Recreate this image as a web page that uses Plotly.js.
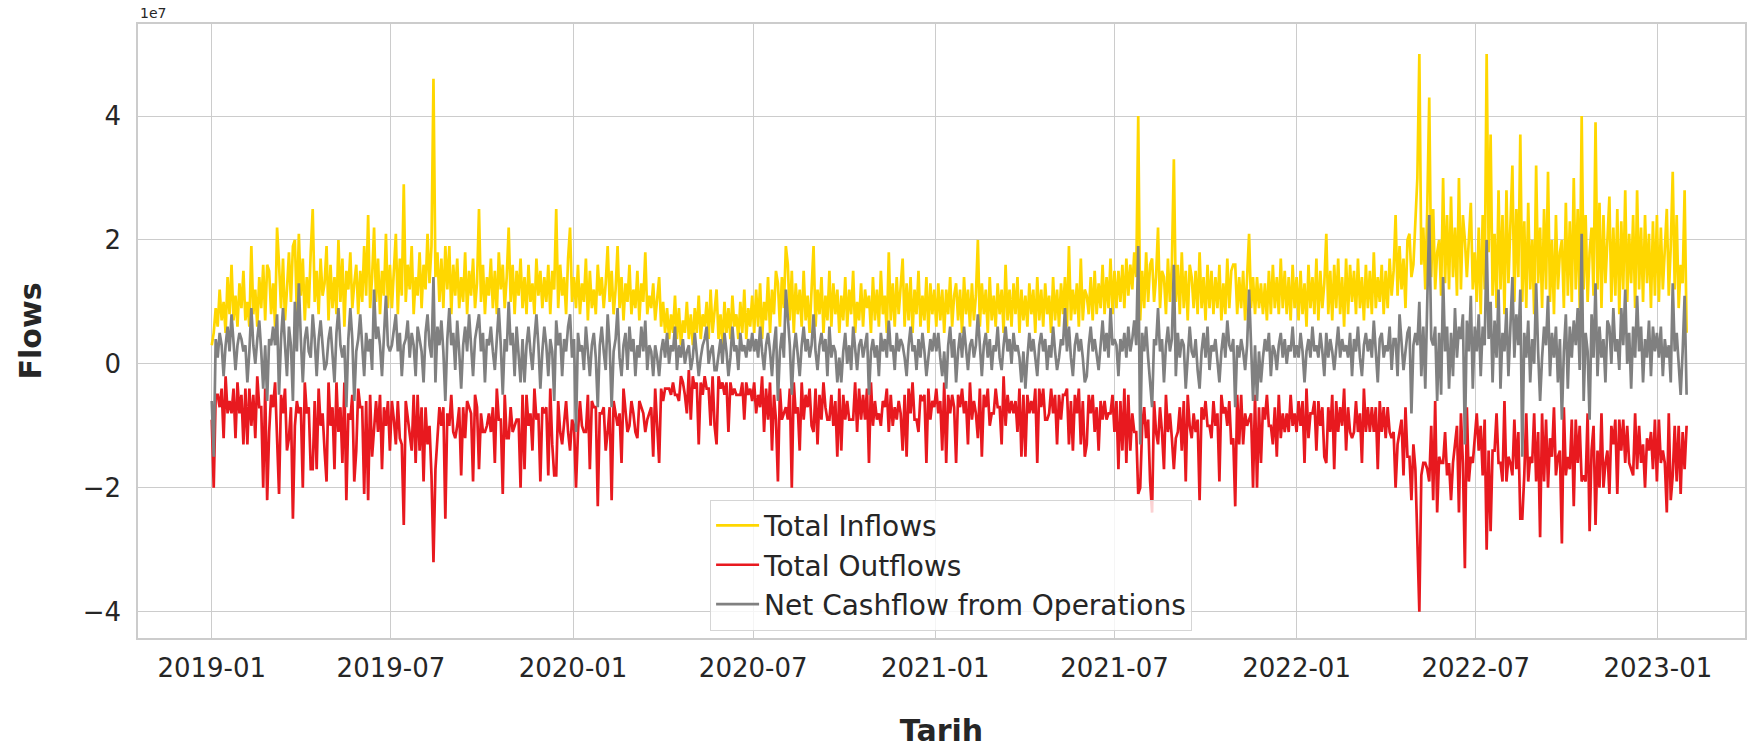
<!DOCTYPE html>
<html>
<head>
<meta charset="utf-8">
<script src="https://cdn.plot.ly/plotly-3.0.1.min.js"></script>
<style>html,body{margin:0;padding:0;background:#fff;}#chart{width:1747px;height:751px;}</style>
</head>
<body>
<div id="chart"></div>
<script>
// Series sampled every 2 days starting 2019-01-01, values in millions (axis labelled in units of 1e7)
const startDate = '2019-01-01';
const stepDays = 2;
const seriesNames = ['Total Inflows', 'Total Outflows', 'Net Cashflow from Operations'];
const xTickDates = ['2019-01-01','2019-07-01','2020-01-01','2020-07-01','2021-01-01','2021-07-01','2022-01-01','2022-07-01','2023-01-01'];
const xTickLabels = ['2019-01','2019-07','2020-01','2020-07','2021-01','2021-07','2022-01','2022-07','2023-01'];
const yTickValues = [-40, -20, 0, 20, 40];
const yTickLabels = ['\u22124', '\u22122', '0', '2', '4'];

const totalInflows = [
3,5,9,6,12,7,10,5,14,8,16,7,11,6,13,9,15,7,10,6,19,8,12,6,14,9,16,7,16,15,8,13,6,22,16,9,17,7,12,18,10,19,20,8,21,11,17,7,14,9,18,25,10,15,8,17,11,13,19,7,16,9,14,8,20,10,17,6,15,12,18,9,13,16,8,15,10,19,11,24,9,14,22,10,17,8,15,11,21,9,16,
9,15,21,8,17,11,29,10,16,12,19,8,14,11,18,9,16,12,21,13,19,46,14,18,10,17,9,19,12,19,8,16,11,17,9,14,10,18,8,15,11,17,9,13,25,10,16,8,14,11,17,9,15,8,18,12,16,9,14,22,10,16,8,15,11,17,9,14,8,16,10,13,8,17,11,15,9,14,10,16,8,15,12,25,9,16,11,14,8,17,22,10,
14,9,16,8,13,10,17,7,15,9,12,8,16,11,14,9,13,19,10,15,8,12,19,9,14,7,13,10,16,8,12,9,15,7,13,10,18,8,11,9,13,7,11,14,6,10,5,9,4,8,5,11,4,9,3,7,5,10,4,8,3,9,5,11,4,8,6,10,4,12,5,9,12,4,8,3,10,5,9,4,11,6,8,4,10,5,12,4,9,6,11,
5,12,6,13,4,10,7,14,5,12,8,15,13,6,14,9,19,16,7,15,5,13,8,12,6,15,7,11,5,13,19,6,12,8,14,5,11,7,15,6,13,8,12,5,11,7,14,6,12,8,15,5,10,7,13,6,12,9,11,5,14,7,12,6,15,8,11,5,18,7,13,6,14,8,12,17,6,13,7,14,5,12,8,15,6,11,7,14,5,13,8,12,
6,13,7,12,5,12,8,14,6,11,13,7,12,5,14,8,12,6,13,7,11,20,6,13,8,12,5,14,7,11,6,13,8,12,5,16,7,12,6,13,8,14,5,12,7,11,6,13,8,12,5,14,7,12,6,13,8,11,5,14,7,12,6,13,8,14,6,19,7,12,8,13,6,17,7,12,11,8,14,7,15,8,13,9,16,8,14,9,17,8,15,
9,15,10,16,9,17,11,16,12,18,14,40,7,15,9,18,10,16,17,10,14,22,9,15,14,8,17,10,16,33,10,16,8,18,9,15,7,16,14,9,15,8,18,9,14,7,16,9,15,8,14,9,16,7,13,8,17,9,15,16,16,8,14,9,15,7,13,21,9,14,8,14,9,13,8,13,7,15,8,16,9,14,8,17,9,15,8,14,7,16,9,
14,7,15,8,13,6,16,9,14,8,17,7,15,9,13,21,8,15,7,16,9,17,8,14,6,17,8,16,10,15,8,17,9,14,7,16,9,15,8,18,9,14,10,16,8,15,9,17,11,15,24,11,19,12,17,9,20,21,14,16,22,30,50,16,22,12,25,43,14,25,12,18,20,11,30,13,24,12,27,14,22,11,30,12,24,20,14,21,26,12,18,
10,22,8,24,12,50,18,37,11,21,9,28,12,24,8,28,13,22,32,10,25,14,37,10,23,9,26,12,20,8,32,13,22,9,25,12,31,10,20,8,24,12,18,20,9,26,11,23,10,30,12,25,9,40,12,24,10,18,22,11,39,12,26,9,24,13,21,27,10,22,11,25,8,23,12,28,10,21,13,24,9,28,12,22,10,24,13,21,9,23,11,24,
10,22,12,20,25,11,19,31,12,24,9,16,13,28,5
];

const totalOutflows = [
-9,-20,-5,-5,-7,-4,-12,-2,-8,-6,-8,-4,-12,-3,-8,-5,-13,-4,-13,-4,-10,-5,-12,-2,-7,-7,-20,-4,-22,-11,-5,-7,-3,-14,-21,-5,-8,-4,-14,-12,-7,-25,-10,-6,-8,-7,-20,-3,-8,-7,-17,-17,-6,-17,-4,-10,-8,-14,-19,-3,-10,-7,-17,-3,-11,-7,-16,-3,-22,-8,-9,-5,-19,-14,-4,-7,-7,-21,-6,-22,-5,-15,-10,-6,-11,-5,-17,-7,-10,-6,-14,
-6,-9,-13,-6,-12,-13,-26,-6,-9,-11,-14,-5,-16,-5,-14,-7,-19,-7,-13,-10,-18,-32,-17,-12,-7,-10,-7,-25,-8,-10,-5,-11,-12,-10,-7,-18,-7,-12,-6,-7,-8,-19,-5,-7,-17,-8,-11,-11,-10,-8,-11,-7,-16,-4,-9,-9,-21,-5,-12,-12,-7,-11,-10,-9,-9,-20,-5,-17,-5,-10,-8,-14,-4,-9,-8,-19,-7,-8,-7,-18,-4,-13,-18,-18,-6,-11,-13,-10,-6,-11,-14,-9,
-10,-20,-11,-6,-10,-11,-11,-5,-17,-6,-7,-7,-23,-8,-8,-7,-14,-11,-7,-22,-6,-8,-10,-8,-16,-4,-8,-11,-10,-6,-8,-11,-12,-6,-7,-8,-11,-9,-8,-7,-15,-4,-10,-16,-4,-6,-4,-4,-4,-5,-3,-5,-5,-6,-2,-3,-5,-8,-1,-9,-2,-4,-3,-13,-3,-5,-2,-4,-4,-10,-2,-10,-13,-2,-4,-3,-5,-3,-11,-3,-5,-4,-5,-5,-5,-3,-9,-3,-5,-4,-6,
-3,-8,-5,-7,-2,-11,-4,-9,-3,-14,-5,-9,-19,-4,-9,-8,-7,-9,-4,-20,-3,-8,-7,-14,-3,-9,-5,-7,-4,-10,-11,-4,-13,-5,-9,-3,-7,-9,-9,-5,-10,-6,-15,-4,-14,-5,-9,-6,-9,-9,-9,-3,-11,-4,-9,-5,-9,-4,-16,-3,-10,-6,-9,-8,-10,-6,-7,-4,-11,-5,-10,-7,-9,-6,-8,-14,-5,-15,-4,-8,-3,-9,-9,-11,-5,-6,-5,-16,-4,-9,-6,-7,
-4,-8,-6,-14,-3,-16,-5,-8,-5,-7,-16,-5,-7,-4,-8,-6,-13,-3,-9,-6,-8,-12,-4,-15,-5,-7,-4,-10,-8,-8,-4,-7,-7,-13,-2,-10,-5,-8,-6,-8,-6,-11,-4,-15,-5,-15,-5,-8,-6,-8,-4,-16,-4,-7,-4,-9,-9,-8,-4,-8,-5,-13,-5,-9,-5,-5,-4,-13,-6,-14,-5,-8,-4,-13,-6,-15,-13,-5,-8,-5,-11,-7,-14,-6,-9,-6,-9,-8,-8,-5,-11,
-6,-17,-6,-14,-4,-16,-5,-14,-8,-11,-11,-21,-20,-10,-7,-12,-9,-19,-24,-6,-11,-13,-7,-11,-17,-5,-11,-8,-12,-17,-12,-11,-7,-14,-6,-19,-5,-10,-12,-8,-11,-9,-22,-7,-9,-6,-10,-10,-12,-6,-10,-8,-19,-5,-8,-7,-10,-6,-13,-12,-23,-5,-13,-5,-13,-8,-10,-9,-8,-20,-5,-20,-7,-16,-7,-9,-5,-10,-10,-13,-7,-15,-5,-12,-8,-11,-8,-11,-5,-10,-8,
-11,-6,-10,-6,-16,-4,-12,-8,-8,-6,-14,-6,-10,-7,-15,-16,-7,-11,-5,-17,-6,-11,-7,-10,-4,-14,-7,-11,-12,-11,-6,-11,-8,-16,-4,-11,-7,-11,-7,-11,-7,-17,-6,-11,-7,-12,-7,-11,-12,-11,-20,-13,-11,-9,-18,-7,-15,-15,-22,-13,-17,-27,-40,-18,-16,-16,-17,-19,-10,-22,-6,-24,-15,-16,-16,-11,-18,-16,-22,-16,-13,-10,-24,-8,-16,-33,-7,-19,-15,-16,-12,
-8,-14,-10,-18,-9,-30,-14,-27,-14,-14,-8,-16,-16,-19,-6,-19,-15,-16,-18,-9,-17,-11,-25,-25,-18,-8,-19,-15,-16,-8,-19,-11,-28,-8,-19,-9,-20,-12,-15,-7,-18,-15,-14,-29,-7,-18,-15,-17,-9,-23,-9,-16,-10,-19,-18,-19,-8,-27,-14,-10,-26,-14,-20,-8,-20,-16,-14,-21,-10,-13,-9,-21,-9,-14,-9,-16,-10,-16,-17,-18,-8,-17,-10,-16,-13,-20,-12,-14,-11,-17,-9,-19,
-9,-16,-14,-16,-24,-8,-22,-18,-10,-19,-10,-21,-11,-17,-10
];

const netCashflow = [
-6,-15,4,1,5,3,-2,3,6,2,8,3,-1,3,5,4,2,3,-3,2,9,3,0,4,7,2,-4,3,-6,4,3,6,3,8,-5,4,9,3,-2,6,3,-6,10,2,13,4,-3,4,6,2,1,8,4,-2,4,7,3,-1,0,4,6,2,-3,5,9,3,1,3,-7,4,9,4,-6,2,4,8,3,-2,5,2,4,-1,12,4,6,3,-2,4,11,3,2,
3,6,8,2,5,-2,3,4,7,1,5,3,-2,6,4,2,-3,5,8,3,1,14,-3,6,3,7,2,-6,4,9,3,5,-1,7,2,-4,3,6,2,8,3,-2,4,6,8,2,5,-3,4,3,6,2,-1,4,9,3,-5,4,2,10,3,5,-2,6,2,-3,4,-3,3,6,2,-1,4,8,3,-4,2,6,3,-2,4,2,-6,7,3,5,-2,4,2,6,8,1,
4,-11,5,2,3,-1,6,2,-2,3,5,1,-7,3,6,2,-1,8,3,-7,2,4,9,1,-2,3,5,-1,6,2,4,-2,3,1,6,2,7,-1,3,2,-2,3,1,-2,2,4,1,5,0,3,2,6,-1,3,1,4,0,2,3,-1,1,5,2,-2,1,3,4,6,0,2,3,-1,-1,2,4,0,5,2,-2,1,6,2,3,-1,5,2,3,1,4,2,5,
2,4,1,6,2,-1,3,5,2,-2,3,6,-6,2,5,1,12,7,3,-5,2,5,1,-2,3,6,2,4,1,3,8,2,-1,3,5,2,4,-2,6,1,3,2,-3,1,-3,2,5,0,3,-1,6,2,-1,3,4,1,3,5,-5,2,4,1,3,-2,5,2,4,1,7,2,3,-1,5,2,4,3,1,-2,3,6,2,3,-1,4,1,5,2,-2,1,4,2,5,
2,5,1,-2,2,-4,3,6,1,4,-3,2,5,1,6,2,-1,3,4,1,3,8,2,-2,3,5,1,4,-1,3,2,6,1,-1,3,6,2,4,0,5,2,3,1,-3,2,-4,1,5,2,4,1,-2,3,5,2,4,-1,3,1,6,2,-1,1,4,3,9,2,6,1,-2,3,5,2,4,1,-3,-2,3,6,2,4,1,-1,3,7,2,5,1,9,3,4,
3,-2,4,2,5,1,6,2,4,7,3,19,-13,5,2,6,1,-3,-7,4,3,9,2,4,-3,3,6,2,4,16,-2,5,1,4,3,-4,2,6,2,1,4,-1,-4,2,5,1,6,-1,3,2,4,1,-3,2,5,1,7,3,2,4,-7,3,1,4,2,-1,3,12,1,-6,3,-6,2,-3,1,4,2,5,-2,3,2,-1,3,5,1,4,0,3,2,6,1,
3,1,5,2,-3,2,4,1,6,2,3,1,5,2,-2,5,1,4,2,-1,3,6,1,4,2,3,1,5,-2,4,2,6,1,-2,3,5,2,4,1,7,2,-3,4,5,1,3,2,6,-1,4,4,-2,8,3,-1,2,5,6,-8,3,5,3,10,-2,6,-4,8,24,4,3,6,-6,5,-5,14,2,6,-4,5,-2,9,1,6,4,8,-13,7,2,11,-4,6,
2,8,-2,6,3,20,4,10,-3,7,1,12,-4,5,2,9,-2,6,14,1,8,3,12,-15,5,1,7,-3,4,0,13,2,-6,1,6,3,11,-2,5,1,6,-3,4,-9,2,8,-4,6,1,7,3,9,-1,21,-6,5,2,-9,8,1,13,-2,6,1,4,-3,7,6,0,9,2,4,-1,9,3,12,0,5,-4,6,1,11,2,6,-3,4,1,7,-2,6,2,5,
1,6,-2,4,1,3,-3,13,2,5,-1,-5,2,11,-5
];

const colors = ['#FFD700', '#E8191F', '#808080'];
const seriesData = [totalInflows, totalOutflows, netCashflow];
const dayMs = 86400000;

const traces = seriesData.map((vals, k) => ({
  type: 'scatter',
  mode: 'lines',
  name: seriesNames[k],
  x0: startDate,
  dx: stepDays * dayMs,
  y: vals,
  line: {color: colors[k], width: 2.7},
  hoverinfo: 'x+y+name'
}));

const font = 'DejaVu Sans, Liberation Sans, sans-serif';
const layout = {
  width: 1747,
  height: 751,
  paper_bgcolor: '#ffffff',
  plot_bgcolor: '#ffffff',
  margin: {l: 138, r: 2, t: 24, b: 113},
  font: {family: font, color: '#262626'},
  showlegend: true,
  legend: {
    x: 0.356, y: 0.012, xanchor: 'left', yanchor: 'bottom',
    bgcolor: 'rgba(255,255,255,0.8)', bordercolor: '#d5d5d5', borderwidth: 1,
    font: {family: font, size: 28, color: '#262626'},
    itemwidth: 43,
    tracegroupgap: 0
  },
  xaxis: {
    type: 'date',
    range: ['2018-10-18 12:00', '2023-03-30'],
    tickmode: 'array',
    tickvals: xTickDates,
    ticktext: xTickLabels,
    ticks: '',
    ticklabelstandoff: 6,
    tickfont: {family: font, size: 26, color: '#262626'},
    showgrid: true, gridcolor: '#cccccc', gridwidth: 1.3,
    showline: true, linecolor: '#cccccc', linewidth: 1.5, mirror: true,
    zeroline: false,
    title: {text: '<b>Tarih</b>', font: {family: font, size: 30, color: '#262626'}, standoff: 38}
  },
  yaxis: {
    range: [-44.25, 54.85],
    tickmode: 'array',
    tickvals: yTickValues,
    ticktext: yTickLabels,
    ticks: '',
    ticklabelstandoff: 10,
    tickfont: {family: font, size: 26, color: '#262626'},
    showgrid: true, gridcolor: '#cccccc', gridwidth: 1.3,
    showline: true, linecolor: '#cccccc', linewidth: 1.5, mirror: true,
    zeroline: false,
    title: {text: '<b>Flows</b>', font: {family: font, size: 30, color: '#262626'}, standoff: 32}
  },
  annotations: [{
    xref: 'paper', yref: 'paper', x: 0, y: 1, xanchor: 'left', yanchor: 'bottom',
    text: '1e7', showarrow: false, yshift: 1,
    font: {family: font, size: 14, color: '#262626'}
  }]
};

Plotly.newPlot('chart', traces, layout, {displayModeBar: false, responsive: false});
</script>
</body>
</html>
